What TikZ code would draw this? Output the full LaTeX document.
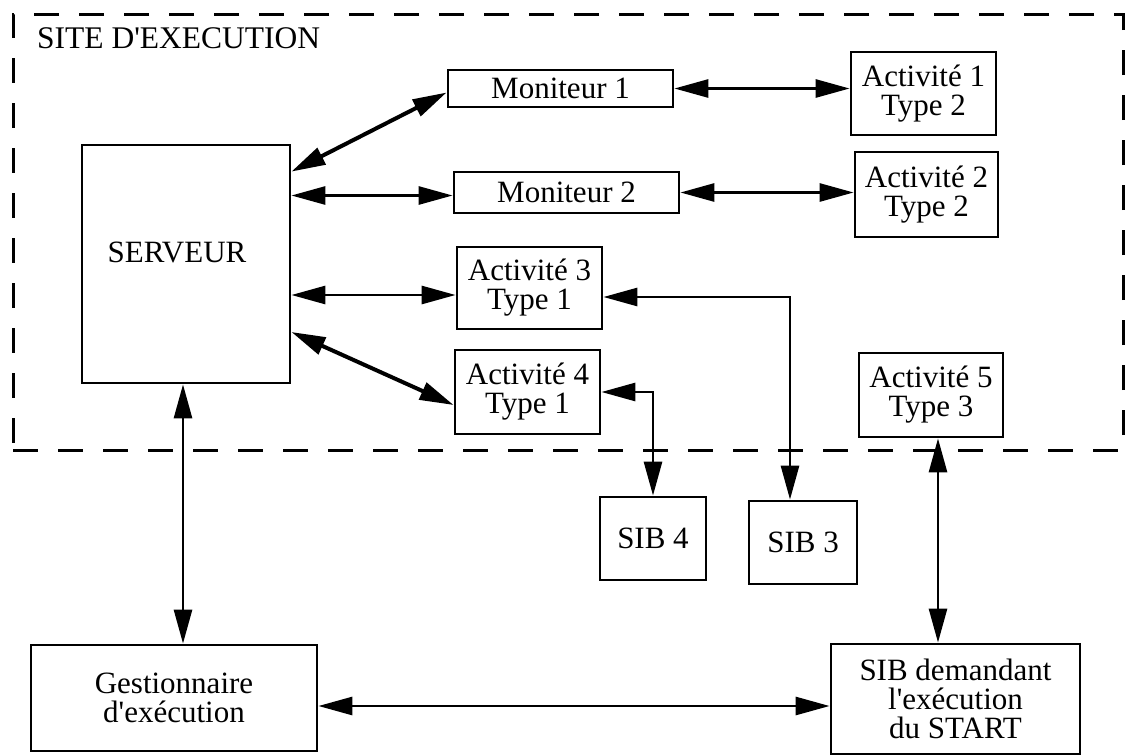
\documentclass[tikz,border=0pt]{standalone}
\usepackage{fontspec}
\setmainfont{Liberation Serif}
\usetikzlibrary{arrows.meta,calc}
\begin{document}
\begin{tikzpicture}[x=1pt,y=-1pt,
  box/.style={draw,line width=2.8pt,inner sep=0pt,align=center,font=\fontsize{31}{29}\selectfont},
  dbl/.style={line width=2.8pt,{Triangle[length=34pt,width=18pt]}-{Triangle[length=34pt,width=18pt]}},
  thickdbl/.style={dbl,line width=4pt},
  frame/.style={draw,line width=3pt,dash pattern=on 25pt off 20pt,inner sep=0pt}
  ]
\useasboundingbox (0,0) rectangle (1127,755);
% dashed site frame
\node[frame,minimum width=1110pt,minimum height=436pt] (site) at (568,232) {};
\node[anchor=west,inner sep=0pt,font=\fontsize{31.5}{31}\selectfont] (title) at (37,38) {SITE D\textquotesingle EXECUTION};
% boxes
\node[box,minimum width=225pt,minimum height=37pt] (mon1) at (560.5,88.5) {Moniteur 1};
\node[box,minimum width=145pt,minimum height=83pt] (a1) at (923.5,93.5) {Activité 1\\Type 2};
\node[box,minimum width=208pt,minimum height=238pt] (serveur) at (186,264) {};
\node[inner sep=0pt,font=\fontsize{31}{29}\selectfont] (serveurtext) at (177,252) {SERVEUR};
\node[box,minimum width=225pt,minimum height=41pt] (mon2) at (566.5,192.5) {Moniteur 2};
\node[box,minimum width=143pt,minimum height=85pt] (a2) at (926.5,194.5) {Activité 2\\Type 2};
\node[box,minimum width=145pt,minimum height=82pt] (a3) at (529.5,288) {Activité 3\\Type 1};
\node[box,minimum width=145pt,minimum height=84pt] (a4) at (527.5,392) {Activité 4\\Type 1};
\node[box,minimum width=144pt,minimum height=84pt] (a5) at (931,395) {Activité 5\\Type 3};
\node[box,minimum width=106pt,minimum height=83pt] (sib4) at (653,538.5) {SIB 4};
\node[box,minimum width=108pt,minimum height=83pt] (sib3) at (803,542.5) {SIB 3};
\node[box,minimum width=286pt,minimum height=106pt] (gest) at (174,698) {Gestionnaire\\d\textquotesingle exécution};
\node[box,minimum width=249pt,minimum height=110pt] (sibd) at (955.5,699) {SIB demandant\\l\textquotesingle exécution\\du START};
% connectors
\draw[thickdbl] ($(serveur.north east)+(0,28)$) -- ($(mon1.west)+(0,4)$);
\draw[dbl] ($(serveur.east |- mon2.west)+(0,3)$) -- ($(mon2.west)+(0,3)$);
\draw[dbl] (mon1.east) -- (mon1.east -| a1.west);
\draw[dbl] (mon2.east) -- (mon2.east -| a2.west);
\draw[dbl] ($(a3.west -| serveur.east)+(0,7)$) -- ($(a3.west)+(0,7)$);
\draw[thickdbl] ($(serveur.east)+(0,68)$) -- ($(a4.west)+(0,13)$);
\draw[dbl] ($(a3.east)+(0,9)$) -| ($(sib3.north)+(-13,0)$);
\draw[dbl] (a4.east) -| (sib4.north);
\coordinate (s1) at ($(serveur.south)+(-3,0)$);
\draw[dbl] (s1) -- (s1 |- gest.north);
\coordinate (s5) at ($(a5.south)+(7,0)$);
\draw[dbl] (s5) -- (s5 |- sibd.north);
\coordinate (g5) at ($(gest.east)+(0,8)$);
\draw[dbl] (g5) -- (g5 -| sibd.west);
\end{tikzpicture}
\end{document}
